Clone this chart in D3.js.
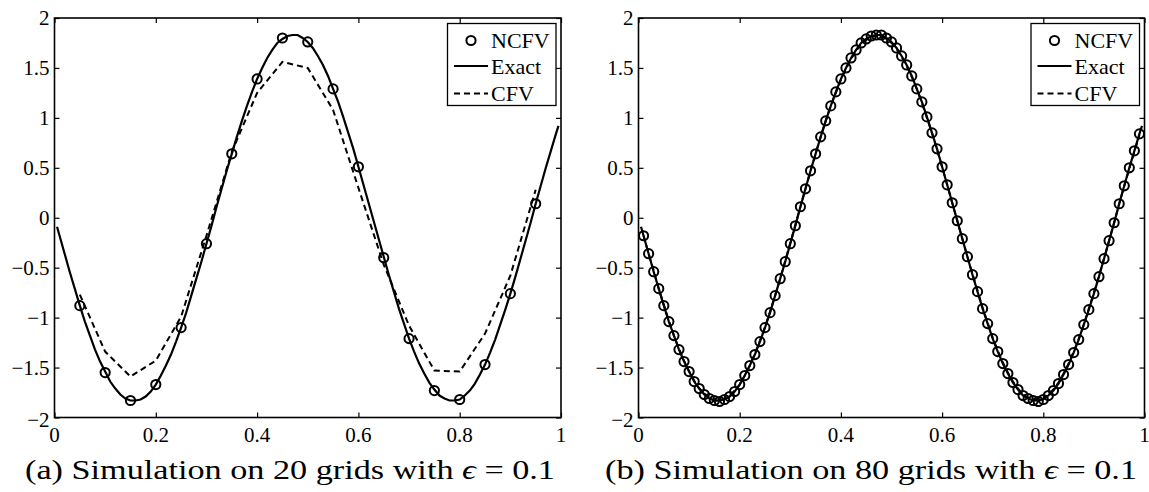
<!DOCTYPE html>
<html>
<head>
<meta charset="utf-8">
<script src="https://cdn.jsdelivr.net/npm/d3@7"></script>
<style>
  html, body { margin: 0; padding: 0; background: #fff; }
  svg { display: block; }
</style>
</head>
<body>
<svg id="chart" width="1149" height="492"></svg>
<script>
// Tick values shared by both panels
const xTicks = [0, 0.2, 0.4, 0.6, 0.8, 1];
const yTicks = [-2, -1.5, -1, -0.5, 0, 0.5, 1, 1.5, 2];

// Exact solution sampled on a fine grid
const exactX = [0.005,
  0.01,0.02,0.03,0.04,0.05,0.06,0.07,0.08,0.09,0.10,
  0.11,0.12,0.13,0.14,0.15,0.16,0.17,0.18,0.19,0.20,
  0.21,0.22,0.23,0.24,0.25,0.26,0.27,0.28,0.29,0.30,
  0.31,0.32,0.33,0.34,0.35,0.36,0.37,0.38,0.39,0.40,
  0.41,0.42,0.43,0.44,0.45,0.46,0.47,0.48,0.49,0.50,
  0.51,0.52,0.53,0.54,0.55,0.56,0.57,0.58,0.59,0.60,
  0.61,0.62,0.63,0.64,0.65,0.66,0.67,0.68,0.69,0.70,
  0.71,0.72,0.73,0.74,0.75,0.76,0.77,0.78,0.79,0.80,
  0.81,0.82,0.83,0.84,0.85,0.86,0.87,0.88,0.89,0.90,
  0.91,0.92,0.93,0.94,0.95,0.96,0.97,0.98,0.99,
  0.995];
const exactY = [-0.09,
  -0.18,-0.36,-0.54,-0.71,-0.88,-1.04,-1.18,-1.32,-1.44,-1.54,
  -1.64,-1.71,-1.77,-1.81,-1.83,-1.83,-1.82,-1.79,-1.74,-1.67,
  -1.58,-1.48,-1.37,-1.24,-1.10,-0.95,-0.78,-0.61,-0.44,-0.26,
  -0.08,0.11,0.29,0.47,0.64,0.81,0.97,1.12,1.26,1.39,
  1.50,1.60,1.68,1.75,1.79,1.82,1.83,1.83,1.80,1.76,
  1.70,1.62,1.53,1.42,1.29,1.16,1.01,0.85,0.69,0.51,
  0.33,0.15,-0.03,-0.21,-0.39,-0.57,-0.74,-0.91,-1.06,-1.21,
  -1.34,-1.46,-1.56,-1.65,-1.72,-1.78,-1.81,-1.83,-1.83,-1.82,
  -1.78,-1.73,-1.66,-1.57,-1.47,-1.35,-1.22,-1.07,-0.92,-0.76,
  -0.59,-0.41,-0.23,-0.05,0.14,0.32,0.50,0.67,0.84,
  0.92];

// 20-grid solutions
const gridX20 = [0.05,0.10,0.15,0.20,0.25,0.30,0.35,0.40,0.45,0.50,
                 0.55,0.60,0.65,0.70,0.75,0.80,0.85,0.90,0.95];
const ncfv20 = [-0.88,-1.55,-1.83,-1.67,-1.10,-0.26,0.64,1.39,1.80,1.76,
                1.29,0.51,-0.40,-1.21,-1.73,-1.82,-1.47,-0.76,0.14];
const cfv20  = [-0.77,-1.34,-1.59,-1.43,-0.99,-0.18,0.66,1.25,1.56,1.50,
                1.08,0.30,-0.47,-1.08,-1.53,-1.54,-1.16,-0.58,0.28];

// 80-grid solutions (nodes at 0.01 spacing)
const gridX80 = [0.01,0.02,0.03,0.04,0.05,0.06,0.07,0.08,0.09,0.10,
  0.11,0.12,0.13,0.14,0.15,0.16,0.17,0.18,0.19,0.20,
  0.21,0.22,0.23,0.24,0.25,0.26,0.27,0.28,0.29,0.30,
  0.31,0.32,0.33,0.34,0.35,0.36,0.37,0.38,0.39,0.40,
  0.41,0.42,0.43,0.44,0.45,0.46,0.47,0.48,0.49,0.50,
  0.51,0.52,0.53,0.54,0.55,0.56,0.57,0.58,0.59,0.60,
  0.61,0.62,0.63,0.64,0.65,0.66,0.67,0.68,0.69,0.70,
  0.71,0.72,0.73,0.74,0.75,0.76,0.77,0.78,0.79,0.80,
  0.81,0.82,0.83,0.84,0.85,0.86,0.87,0.88,0.89,0.90,
  0.91,0.92,0.93,0.94,0.95,0.96,0.97,0.98,0.99];
const ncfv80 = [-0.18,-0.36,-0.54,-0.71,-0.88,-1.04,-1.18,-1.32,-1.44,-1.54,
  -1.64,-1.71,-1.77,-1.81,-1.83,-1.84,-1.82,-1.79,-1.74,-1.67,
  -1.58,-1.48,-1.37,-1.24,-1.10,-0.95,-0.78,-0.61,-0.44,-0.26,
  -0.08,0.11,0.29,0.47,0.64,0.81,0.97,1.12,1.26,1.39,
  1.50,1.60,1.68,1.75,1.79,1.82,1.83,1.83,1.80,1.76,
  1.70,1.62,1.53,1.42,1.29,1.16,1.01,0.85,0.69,0.51,
  0.33,0.15,-0.03,-0.21,-0.39,-0.57,-0.74,-0.91,-1.06,-1.21,
  -1.34,-1.46,-1.56,-1.65,-1.72,-1.78,-1.81,-1.83,-1.84,-1.82,
  -1.78,-1.73,-1.66,-1.57,-1.47,-1.35,-1.22,-1.07,-0.92,-0.76,
  -0.59,-0.41,-0.23,-0.05,0.14,0.32,0.50,0.67,0.84];
const cfv80 = [-0.18,-0.36,-0.53,-0.71,-0.87,-1.03,-1.18,-1.31,-1.43,-1.54,
  -1.63,-1.71,-1.76,-1.80,-1.83,-1.83,-1.81,-1.78,-1.73,-1.67,
  -1.58,-1.48,-1.36,-1.23,-1.09,-0.94,-0.78,-0.61,-0.43,-0.25,
  -0.07,0.11,0.29,0.47,0.64,0.81,0.97,1.12,1.25,1.38,
  1.49,1.59,1.67,1.74,1.78,1.81,1.82,1.82,1.79,1.75,
  1.69,1.61,1.52,1.41,1.29,1.15,1.00,0.85,0.68,0.51,
  0.33,0.15,-0.03,-0.21,-0.39,-0.56,-0.73,-0.90,-1.05,-1.20,
  -1.33,-1.45,-1.55,-1.64,-1.71,-1.77,-1.80,-1.82,-1.82,-1.81,
  -1.77,-1.72,-1.65,-1.56,-1.46,-1.34,-1.21,-1.07,-0.91,-0.75,
  -0.58,-0.41,-0.23,-0.05,0.14,0.32,0.49,0.66,0.83];

const legendLabels = ["NCFV", "Exact", "CFV"];

const panels = [
  { left: 54.5, right: 561, top: 18, bottom: 417.5,
    ncfvX: gridX20, ncfvY: ncfv20, cfvX: gridX20, cfvY: cfv20,
    tag: "(a)", grids: "20", capX: 25, capW: 530 },
  { left: 638.5, right: 1144.5, top: 18, bottom: 417.5,
    ncfvX: gridX80, ncfvY: ncfv80, cfvX: gridX80, cfvY: cfv80,
    tag: "(b)", grids: "80", capX: 605, capW: 532 }
];

const FONT = '"Liberation Serif"';
const svg = d3.select("#chart");
const fmt = v => (v < 0 ? "\u2212" : "") + String(Math.abs(v));
const TICK = 5;

panels.forEach((p, pi) => {
  const x = d3.scaleLinear().domain([0, 1]).range([p.left, p.right]);
  const y = d3.scaleLinear().domain([-2, 2]).range([p.bottom, p.top]);
  const g = svg.append("g");

  const clipId = "clip" + pi;
  svg.append("clipPath").attr("id", clipId)
    .append("rect").attr("x", p.left).attr("y", p.top)
    .attr("width", p.right - p.left).attr("height", p.bottom - p.top);

  // Axes with inward ticks on all four sides
  const axB = d3.axisBottom(x).tickValues(xTicks).tickSize(-TICK).tickFormat("");
  const axT = d3.axisTop(x).tickValues(xTicks).tickSize(-TICK).tickFormat("");
  const axL = d3.axisLeft(y).tickValues(yTicks).tickSize(-TICK).tickFormat("");
  const axR = d3.axisRight(y).tickValues(yTicks).tickSize(-TICK).tickFormat("");
  [[axB, `translate(0,${p.bottom})`], [axT, `translate(0,${p.top})`],
   [axL, `translate(${p.left},0)`], [axR, `translate(${p.right},0)`]].forEach(([ax, tr]) => {
    const a = g.append("g").attr("transform", tr).call(ax);
    a.select(".domain").remove();
    a.selectAll("text").remove();
    a.selectAll("line").attr("stroke", "#000").attr("stroke-width", 1.2);
  });
  g.append("rect").attr("x", p.left).attr("y", p.top)
    .attr("width", p.right - p.left).attr("height", p.bottom - p.top)
    .attr("fill", "none").attr("stroke", "#000").attr("stroke-width", 1.6);

  // Tick labels
  g.selectAll(".xl").data(xTicks).enter().append("text")
    .style("font-family", FONT)
    .attr("x", d => x(d)).attr("y", p.bottom + 24)
    .attr("text-anchor", "middle").attr("font-size", 21).text(d => fmt(d));
  g.selectAll(".yl").data(yTicks).enter().append("text")
    .style("font-family", FONT)
    .attr("x", p.left - 5).attr("y", d => y(d) + (d === -2 ? 9 : 7))
    .attr("text-anchor", "end").attr("font-size", 21).text(d => fmt(d));

  const plot = g.append("g").attr("clip-path", `url(#${clipId})`);
  const line = d3.line().x(d => x(d[0])).y(d => y(d[1]));

  // CFV (dashed)
  plot.append("path")
    .attr("d", line(p.cfvX.map((v, i) => [v, p.cfvY[i]])))
    .attr("fill", "none").attr("stroke", "#000").attr("stroke-width", 2)
    .attr("stroke-dasharray", "6,4");

  // Exact (solid)
  plot.append("path")
    .attr("d", line(exactX.map((v, i) => [v, exactY[i]])))
    .attr("fill", "none").attr("stroke", "#000").attr("stroke-width", 2.2);

  // NCFV (open circles)
  plot.selectAll(".m").data(p.ncfvX.map((v, i) => [v, p.ncfvY[i]])).enter()
    .append("circle")
    .attr("cx", d => x(d[0])).attr("cy", d => y(d[1])).attr("r", 4.6)
    .attr("fill", "none").attr("stroke", "#000").attr("stroke-width", 2);

  // Legend
  const lx = p.right - 5 - 108.5, ly = p.top + 5.5;
  const lg = g.append("g");
  lg.append("rect").attr("x", lx).attr("y", ly).attr("width", 108.5).attr("height", 82)
    .attr("fill", "#fff").attr("stroke", "#000").attr("stroke-width", 1.3);
  const rowY = [ly + 17, ly + 42.5, ly + 70];
  lg.append("circle").attr("cx", lx + 23.5).attr("cy", rowY[0]).attr("r", 4.6)
    .attr("fill", "none").attr("stroke", "#000").attr("stroke-width", 2);
  lg.append("line").attr("x1", lx + 6.5).attr("x2", lx + 40.5)
    .attr("y1", rowY[1]).attr("y2", rowY[1]).attr("stroke", "#000").attr("stroke-width", 2.2);
  lg.append("line").attr("x1", lx + 6.5).attr("x2", lx + 40.5)
    .attr("y1", rowY[2]).attr("y2", rowY[2]).attr("stroke", "#000").attr("stroke-width", 2)
    .attr("stroke-dasharray", "6,4");
  legendLabels.forEach((t, i) => {
    lg.append("text").style("font-family", FONT)
      .attr("x", lx + 43.5).attr("y", rowY[i] + 7.5)
      .attr("font-size", 22).text(t);
  });

  // Caption
  const cap = svg.append("text").style("font-family", FONT)
    .attr("x", p.capX).attr("y", 479)
    .attr("font-size", 27)
    .attr("textLength", p.capW).attr("lengthAdjust", "spacingAndGlyphs");
  cap.append("tspan").text(`${p.tag} Simulation on ${p.grids} grids with `);
  cap.append("tspan").attr("font-style", "italic").text("\u03F5");
  cap.append("tspan").text(" = 0.1");
});
</script>
</body>
</html>
